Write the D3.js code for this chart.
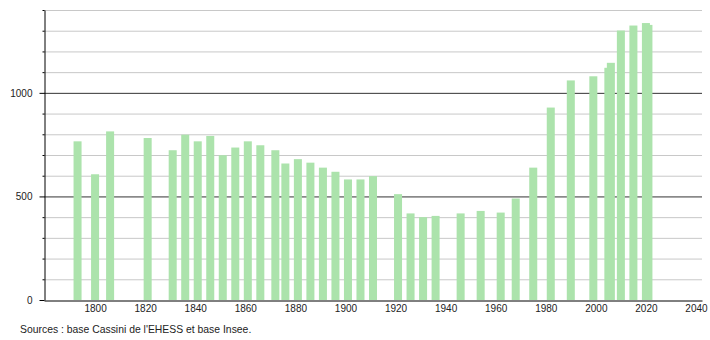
<!DOCTYPE html>
<html>
<head>
<meta charset="utf-8">
<script src="https://cdn.jsdelivr.net/npm/d3@7"></script>
<style>
  body { margin: 0; background: #fff; }
  svg { display: block; font-family: "Liberation Sans", Arial, sans-serif; }
  .tick text { fill: #222; font-size: 10px; }
</style>
</head>
<body>
<figure style="margin:0"></figure>
<script>
// census years and population
const years = [1793, 1800, 1806, 1821, 1831, 1836, 1841, 1846, 1851, 1856,
               1861, 1866, 1872, 1876, 1881, 1886, 1891, 1896, 1901, 1906,
               1911, 1921, 1926, 1931, 1936, 1946, 1954, 1962, 1968, 1975,
               1982, 1990, 1999, 2005, 2006, 2010, 2015, 2020, 2021];
const population = [766, 607, 814, 782, 723, 798, 766, 792, 699, 736,
                    766, 747, 723, 659, 680, 663, 639, 619, 582, 582,
                    598, 511, 418, 400, 406, 418, 430, 422, 490, 639,
                    929, 1060, 1080, 1121, 1145, 1301, 1325, 1337, 1328];
const xTicks = [1800, 1820, 1840, 1860, 1880, 1900, 1920, 1940, 1960, 1980, 2000, 2020, 2040];
const yMajor = [0, 500, 1000];
const yGrid = d3.range(100, 1500, 100);
const source = "Sources : base Cassini de l'EHESS et base Insee.";

const width = 710, height = 340;
const padL = 44, padR = 702, padT = 10, padB = 300;

const data = years.map((y, i) => ({year: y, pop: population[i]}));

const svg = d3.select("figure")
    .append("svg")
    .attr("width", width)
    .attr("height", height);

const xScale = d3.scaleLinear()
    .domain([1779.6, 2042.4])
    .range([padL, padR]);

const yScale = d3.scaleLinear()
    .domain([0, 1400])
    .range([padB, padT]);

// grid lines, darker every 500
svg.append("g")
    .selectAll("line")
    .data(yGrid)
    .enter()
    .append("line")
    .attr("x1", padL)
    .attr("x2", padR)
    .attr("y1", d => yScale(d) + 0.5)
    .attr("y2", d => yScale(d) + 0.5)
    .attr("stroke", d => d % 500 === 0 ? "#333" : "#c8c8c8")
    .attr("stroke-width", 1);

// bars
const halfW = 1.6; // in years
svg.append("g")
    .selectAll("rect")
    .data(data)
    .enter()
    .append("rect")
    .attr("x", d => xScale(d.year - halfW))
    .attr("width", d => xScale(d.year + halfW) - xScale(d.year - halfW))
    .attr("y", d => yScale(d.pop))
    .attr("height", d => yScale(0) - yScale(d.pop))
    .attr("fill", "#ace3ac");

// x axis
const xAxis = svg.append("g")
    .attr("transform", "translate(0," + (padB + 0.5) + ")")
    .call(d3.axisBottom(xScale).tickValues(xTicks).tickFormat(d3.format("d")).tickSize(0).tickPadding(4));
xAxis.select(".domain").attr("stroke", "#000");

// y axis: minor ticks every 100, longer at 0/500/1000
const yAxis = svg.append("g")
    .attr("transform", "translate(" + (padL + 0.5) + ",0)")
    .call(d3.axisLeft(yScale).tickValues(yMajor).tickFormat(d3.format("d")).tickSize(5).tickSizeOuter(0).tickPadding(7));
yAxis.select(".domain").attr("stroke", "#000");
yAxis.selectAll(".tick line").attr("stroke", "#000");

svg.append("g")
    .selectAll("line")
    .data(yGrid.filter(d => d % 500 !== 0))
    .enter()
    .append("line")
    .attr("x1", padL - 1.5)
    .attr("x2", padL + 0.5)
    .attr("y1", d => yScale(d) + 0.5)
    .attr("y2", d => yScale(d) + 0.5)
    .attr("stroke", "#000");

svg.append("text")
    .attr("x", 20)
    .attr("y", 333)
    .attr("font-size", "10.4px")
    .attr("fill", "#222")
    .text(source);
</script>
</body>
</html>
